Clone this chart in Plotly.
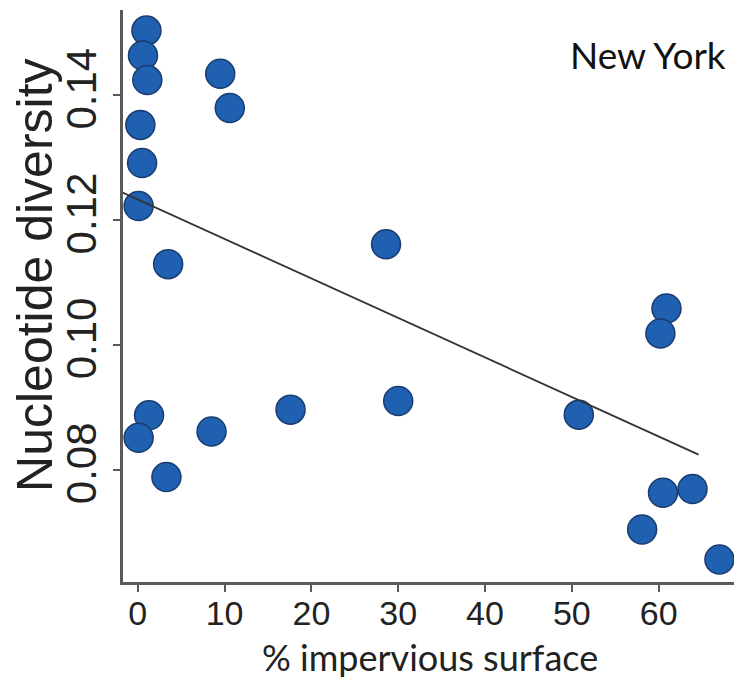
import plotly.graph_objects as go

# Data
impervious = [1.0, 0.6, 1.1, 0.3, 0.5, 0.1, 9.5, 10.6, 3.5, 28.6,
              1.3, 0.1, 3.3, 8.5, 17.6, 30.0, 60.9, 60.2, 50.8, 60.5,
              63.9, 58.1, 67.0]
diversity = [0.1503, 0.1463, 0.1424, 0.1352, 0.1291, 0.1222, 0.1434, 0.1379, 0.1129, 0.1161,
             0.0887, 0.0851, 0.0788, 0.0861, 0.0896, 0.0910, 0.1058, 0.1018, 0.0888, 0.0763,
             0.0769, 0.0704, 0.0656]

fit_x = [-1.8, 64.6]
fit_y = [0.1244, 0.0824]

x_ticks = [0, 10, 20, 30, 40, 50, 60]
y_ticks = [0.08, 0.10, 0.12, 0.14]
y_tick_labels = ["0.08", "0.10", "0.12", "0.14"]

fig = go.Figure()
fig.add_trace(go.Scatter(
    x=impervious, y=diversity, mode="markers",
    marker=dict(size=29, color="#1f60b0", line=dict(color="#1a3c70", width=1.5)),
    showlegend=False))
fig.add_trace(go.Scatter(
    x=fit_x, y=fit_y, mode="lines",
    line=dict(color="#333333", width=1.8), hoverinfo="skip", showlegend=False))

# page has an 8px body margin, so the figure is 8px smaller than the window
fig.update_layout(
    width=734, height=672,
    margin=dict(l=115, r=0, t=2, b=98),
    plot_bgcolor="white", paper_bgcolor="white",
    xaxis=dict(
        range=[-1.7, 69.6], tickvals=x_ticks, showgrid=False, zeroline=False,
        showline=True, linecolor="#5a5a5a", linewidth=2.5, automargin=False,
        ticks="outside", ticklen=7, tickwidth=2, tickcolor="#5a5a5a",
        ticklabelstandoff=-8,
        tickfont=dict(family="Liberation Sans, Arial", size=34, color="#222222"),
    ),
    yaxis=dict(
        range=[0.062, 0.1536], tickvals=y_ticks, ticktext=y_tick_labels,
        showgrid=False, zeroline=False, automargin=False,
        showline=True, linecolor="#5a5a5a", linewidth=2.5,
        ticks="outside", ticklen=7, tickwidth=2, tickcolor="#5a5a5a",
        tickangle=-90,
        tickfont=dict(family="Liberation Sans, Arial", size=42, color="#222222"),
    ),
    annotations=[
        dict(text="Nucleotide diversity", xref="paper", yref="paper",
             x=-0.142, y=0.537, xanchor="center", yanchor="middle", textangle=-90,
             showarrow=False,
             font=dict(family="Liberation Sans, Arial", size=50, color="#222222")),
        dict(text="% impervious surface", xref="paper", yref="paper",
             x=0.496, y=-0.1311, xanchor="center", yanchor="middle", showarrow=False,
             font=dict(family="Lato", size=36, color="#222222")),
        dict(text="New York", xref="paper", yref="paper",
             x=0.977, y=0.923, xanchor="right", yanchor="middle", showarrow=False,
             font=dict(family="Lato", size=37, color="#111111")),
    ],
)

fig.write_html("out.html")
